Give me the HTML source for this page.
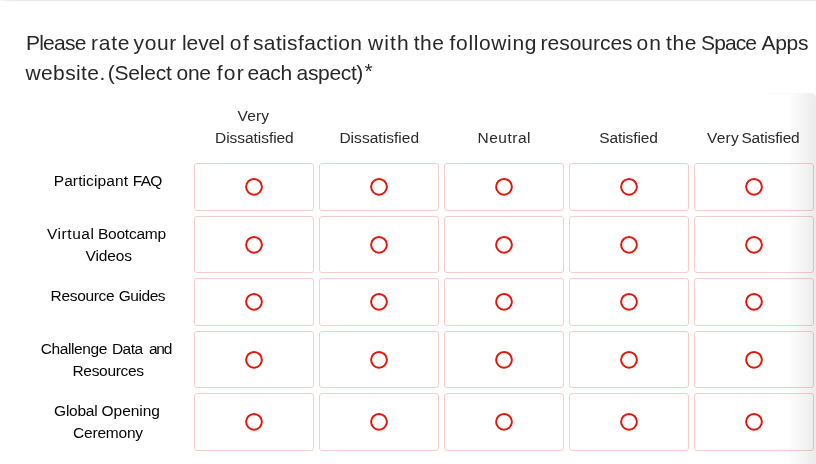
<!DOCTYPE html>
<html>
<head>
<meta charset="utf-8">
<title>Survey</title>
<style>
html,body{margin:0;padding:0;background:#fff;}
body{width:816px;height:464px;overflow:hidden;position:relative;font-family:"Liberation Sans",Arial,sans-serif;color:#262626;}
.topline{position:absolute;left:0;top:0;width:816px;height:1px;background:linear-gradient(to right,#f6f6f6 0,#e8e8e8 12px,#e8e8e8 100%);}
.topline2{position:absolute;left:0;top:1px;width:816px;height:1px;background:#fcfcfc;}
.ln{position:absolute;left:0;width:816px;height:30px;line-height:30px;white-space:nowrap;}
.ln span{position:absolute;top:0;}
.title{font-size:21px;color:#282828;}
.hd{font-size:15.5px;color:#2a2a2a;}
.lb{font-size:15.5px;color:#050505;}
.cell{position:absolute;box-sizing:border-box;width:120px;border:1px solid #f7cdca;border-radius:3px;}
.cell svg{position:absolute;left:50%;top:50%;margin-left:-10px;margin-top:-10px;}
.shtop{position:absolute;left:770px;top:93px;width:20px;height:2px;background:rgba(0,0,0,0.012);}
.shade{position:absolute;left:770px;top:93px;width:46px;height:371px;border-top-right-radius:5px;background:linear-gradient(to right,rgba(0,0,0,0) 0,rgba(0,0,0,0.003) 40%,rgba(0,0,0,0.08) 100%);}
</style>
</head>
<body>
<div class="topline"></div><div class="topline2"></div>
<div class="ln title" style="top:28px"><span style="left:25.9px;letter-spacing:-0.74px">Please</span> <span style="left:91.0px;letter-spacing:0.733px">rate</span> <span style="left:133.6px;letter-spacing:0.6px">your</span> <span style="left:182.0px;letter-spacing:-0.1px">level</span> <span style="left:229.8px;letter-spacing:1.4px">of</span> <span style="left:253.0px;letter-spacing:0.355px">satisfaction</span> <span style="left:368.1px;letter-spacing:1.067px">with</span> <span style="left:413.8px;letter-spacing:0.45px">the</span> <span style="left:449.6px;letter-spacing:0.637px">following</span> <span style="left:540.6px;letter-spacing:-0.025px">resources</span> <span style="left:636.6px;letter-spacing:0.9px">on</span> <span style="left:666.1px;letter-spacing:0.6px">the</span> <span style="left:701.1px;letter-spacing:-0.9px">Space</span> <span style="left:761.4px;letter-spacing:-0.267px">Apps</span></div>
<div class="ln title" style="top:58px"><span style="left:25.5px;letter-spacing:0.386px">website.</span> <span style="left:107.7px;letter-spacing:-0.217px">(Select</span> <span style="left:176.5px;letter-spacing:-0.25px">one</span> <span style="left:216.7px;letter-spacing:1.25px">for</span> <span style="left:247.6px;letter-spacing:-0.333px">each</span> <span style="left:296.6px;letter-spacing:-0.35px">aspect)</span><span style="left:364.5px;top:-2px;letter-spacing:-0.6px">*</span></div>
<div class="ln hd" style="top:101px"><span style="left:237.6px;letter-spacing:0.133px">Very</span></div>
<div class="ln hd" style="top:123px"><span style="left:215.1px;letter-spacing:-0.055px">Dissatisfied</span></div>
<div class="ln hd" style="top:123px"><span style="left:339.4px;letter-spacing:0.036px">Dissatisfied</span></div>
<div class="ln hd" style="top:123px"><span style="left:477.5px;letter-spacing:0.5px">Neutral</span></div>
<div class="ln hd" style="top:123px"><span style="left:599.2px;letter-spacing:-0.088px">Satisfied</span></div>
<div class="ln hd" style="top:123px"><span style="left:706.9px;letter-spacing:0.3px">Very</span> <span style="left:741.4px;letter-spacing:-0.137px">Satisfied</span></div>
<div class="ln lb" style="top:166px"><span style="left:53.7px;letter-spacing:0.11px">Participant</span> <span style="left:132.8px;letter-spacing:-0.75px">FAQ</span></div>
<div class="ln lb" style="top:219px"><span style="left:47.0px;letter-spacing:0.55px">Virtual</span> <span style="left:98.0px;letter-spacing:-0.243px">Bootcamp</span></div>
<div class="ln lb" style="top:241px"><span style="left:85.5px;letter-spacing:-0.12px">Videos</span></div>
<div class="ln lb" style="top:281px"><span style="left:50.6px;letter-spacing:-0.343px">Resource</span> <span style="left:118.7px;letter-spacing:-0.44px">Guides</span></div>
<div class="ln lb" style="top:334px"><span style="left:40.8px;letter-spacing:-0.412px">Challenge</span> <span style="left:111.9px;letter-spacing:-0.467px">Data</span> <span style="left:148.9px;letter-spacing:-1.15px">and</span></div>
<div class="ln lb" style="top:356px"><span style="left:72.5px;letter-spacing:-0.325px">Resources</span></div>
<div class="ln lb" style="top:396px"><span style="left:54.1px;letter-spacing:-0.24px">Global</span> <span style="left:101.6px;letter-spacing:-0.05px">Opening</span></div>
<div class="ln lb" style="top:418px"><span style="left:73.1px;letter-spacing:-0.214px">Ceremony</span></div>
<div class="cell" style="left:194px;top:163px;height:48px"><svg width="20" height="20" viewBox="0 0 20 20"><circle cx="10" cy="9.8" r="7.9" fill="none" stroke="#e0180c" stroke-width="1.95"/></svg></div>
<div class="cell" style="left:319px;top:163px;height:48px"><svg width="20" height="20" viewBox="0 0 20 20"><circle cx="10" cy="9.8" r="7.9" fill="none" stroke="#e0180c" stroke-width="1.95"/></svg></div>
<div class="cell" style="left:444px;top:163px;height:48px"><svg width="20" height="20" viewBox="0 0 20 20"><circle cx="10" cy="9.8" r="7.9" fill="none" stroke="#e0180c" stroke-width="1.95"/></svg></div>
<div class="cell" style="left:569px;top:163px;height:48px"><svg width="20" height="20" viewBox="0 0 20 20"><circle cx="10" cy="9.8" r="7.9" fill="none" stroke="#e0180c" stroke-width="1.95"/></svg></div>
<div class="cell" style="left:694px;top:163px;height:48px"><svg width="20" height="20" viewBox="0 0 20 20"><circle cx="10" cy="9.8" r="7.9" fill="none" stroke="#e0180c" stroke-width="1.95"/></svg></div>
<div class="cell" style="left:194px;top:216px;height:57px"><svg width="20" height="20" viewBox="0 0 20 20"><circle cx="10" cy="9.8" r="7.9" fill="none" stroke="#e0180c" stroke-width="1.95"/></svg></div>
<div class="cell" style="left:319px;top:216px;height:57px"><svg width="20" height="20" viewBox="0 0 20 20"><circle cx="10" cy="9.8" r="7.9" fill="none" stroke="#e0180c" stroke-width="1.95"/></svg></div>
<div class="cell" style="left:444px;top:216px;height:57px"><svg width="20" height="20" viewBox="0 0 20 20"><circle cx="10" cy="9.8" r="7.9" fill="none" stroke="#e0180c" stroke-width="1.95"/></svg></div>
<div class="cell" style="left:569px;top:216px;height:57px"><svg width="20" height="20" viewBox="0 0 20 20"><circle cx="10" cy="9.8" r="7.9" fill="none" stroke="#e0180c" stroke-width="1.95"/></svg></div>
<div class="cell" style="left:694px;top:216px;height:57px"><svg width="20" height="20" viewBox="0 0 20 20"><circle cx="10" cy="9.8" r="7.9" fill="none" stroke="#e0180c" stroke-width="1.95"/></svg></div>
<div class="cell" style="left:194px;top:278px;height:48px"><svg width="20" height="20" viewBox="0 0 20 20"><circle cx="10" cy="9.8" r="7.9" fill="none" stroke="#e0180c" stroke-width="1.95"/></svg></div>
<div class="cell" style="left:319px;top:278px;height:48px"><svg width="20" height="20" viewBox="0 0 20 20"><circle cx="10" cy="9.8" r="7.9" fill="none" stroke="#e0180c" stroke-width="1.95"/></svg></div>
<div class="cell" style="left:444px;top:278px;height:48px"><svg width="20" height="20" viewBox="0 0 20 20"><circle cx="10" cy="9.8" r="7.9" fill="none" stroke="#e0180c" stroke-width="1.95"/></svg></div>
<div class="cell" style="left:569px;top:278px;height:48px"><svg width="20" height="20" viewBox="0 0 20 20"><circle cx="10" cy="9.8" r="7.9" fill="none" stroke="#e0180c" stroke-width="1.95"/></svg></div>
<div class="cell" style="left:694px;top:278px;height:48px"><svg width="20" height="20" viewBox="0 0 20 20"><circle cx="10" cy="9.8" r="7.9" fill="none" stroke="#e0180c" stroke-width="1.95"/></svg></div>
<div class="cell" style="left:194px;top:331px;height:57px"><svg width="20" height="20" viewBox="0 0 20 20"><circle cx="10" cy="9.8" r="7.9" fill="none" stroke="#e0180c" stroke-width="1.95"/></svg></div>
<div class="cell" style="left:319px;top:331px;height:57px"><svg width="20" height="20" viewBox="0 0 20 20"><circle cx="10" cy="9.8" r="7.9" fill="none" stroke="#e0180c" stroke-width="1.95"/></svg></div>
<div class="cell" style="left:444px;top:331px;height:57px"><svg width="20" height="20" viewBox="0 0 20 20"><circle cx="10" cy="9.8" r="7.9" fill="none" stroke="#e0180c" stroke-width="1.95"/></svg></div>
<div class="cell" style="left:569px;top:331px;height:57px"><svg width="20" height="20" viewBox="0 0 20 20"><circle cx="10" cy="9.8" r="7.9" fill="none" stroke="#e0180c" stroke-width="1.95"/></svg></div>
<div class="cell" style="left:694px;top:331px;height:57px"><svg width="20" height="20" viewBox="0 0 20 20"><circle cx="10" cy="9.8" r="7.9" fill="none" stroke="#e0180c" stroke-width="1.95"/></svg></div>
<div class="cell" style="left:194px;top:393px;height:58px"><svg width="20" height="20" viewBox="0 0 20 20"><circle cx="10" cy="9.8" r="7.9" fill="none" stroke="#e0180c" stroke-width="1.95"/></svg></div>
<div class="cell" style="left:319px;top:393px;height:58px"><svg width="20" height="20" viewBox="0 0 20 20"><circle cx="10" cy="9.8" r="7.9" fill="none" stroke="#e0180c" stroke-width="1.95"/></svg></div>
<div class="cell" style="left:444px;top:393px;height:58px"><svg width="20" height="20" viewBox="0 0 20 20"><circle cx="10" cy="9.8" r="7.9" fill="none" stroke="#e0180c" stroke-width="1.95"/></svg></div>
<div class="cell" style="left:569px;top:393px;height:58px"><svg width="20" height="20" viewBox="0 0 20 20"><circle cx="10" cy="9.8" r="7.9" fill="none" stroke="#e0180c" stroke-width="1.95"/></svg></div>
<div class="cell" style="left:694px;top:393px;height:58px"><svg width="20" height="20" viewBox="0 0 20 20"><circle cx="10" cy="9.8" r="7.9" fill="none" stroke="#e0180c" stroke-width="1.95"/></svg></div>
<div class="shade"></div>
<div class="shtop"></div>
</body>
</html>
